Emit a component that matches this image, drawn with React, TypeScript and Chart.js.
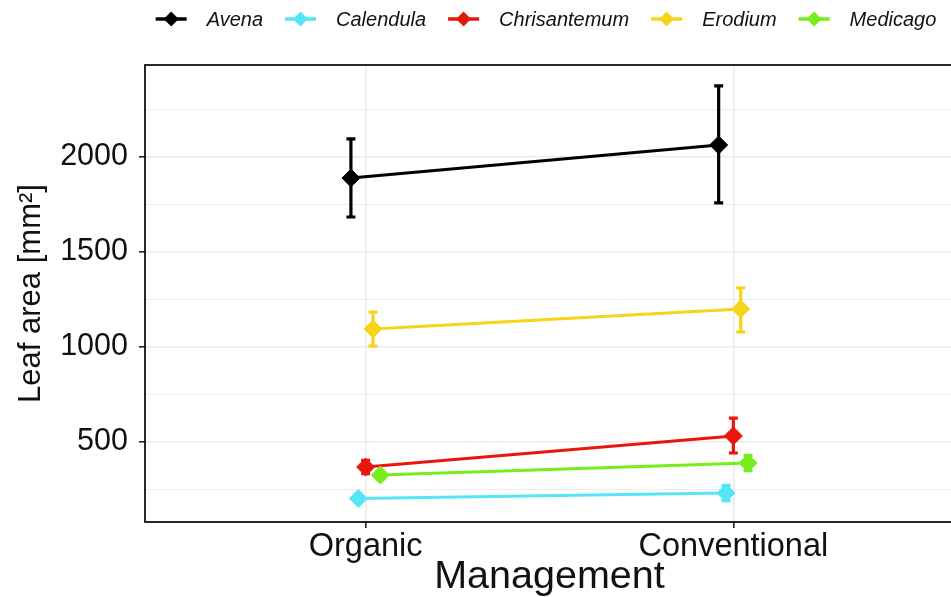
import React, { useEffect, useRef } from 'react';
import { Chart, registerables } from 'chart.js';

Chart.register(...registerables);

// ---- data ----
const categories = ['Organic', 'Conventional'];
const species = ['Avena', 'Calendula', 'Chrisantemum', 'Erodium', 'Medicago'];
const speciesColors = ['#000000', '#55E6F5', '#E8170E', '#F6D41A', '#77EE1B'];

const avenaMean = [1889, 2063];
const avenaLow = [1684, 1758];
const avenaHigh = [2095, 2374];

const calendulaMean = [203, 232];
const calendulaLow = [188, 192];
const calendulaHigh = [218, 272];

const chrisantemumMean = [368, 532];
const chrisantemumLow = [333, 442];
const chrisantemumHigh = [403, 626];

const erodiumMean = [1095, 1200];
const erodiumLow = [1005, 1079];
const erodiumHigh = [1184, 1311];

const medicagoMean = [326, 389];
const medicagoLow = [306, 349];
const medicagoHigh = [346, 430];

const yTickLabels = ['500', '1000', '1500', '2000'];

const means = [avenaMean, calendulaMean, chrisantemumMean, erodiumMean, medicagoMean];
const lows = [avenaLow, calendulaLow, chrisantemumLow, erodiumLow, medicagoLow];
const highs = [avenaHigh, calendulaHigh, chrisantemumHigh, erodiumHigh, medicagoHigh];
const dodgeSlots = [-2, -1, 0, 1, 2];
const DODGE = 0.02;

const CANVAS_W = 1000;
const CANVAS_H = 597;

const FONT = '"Liberation Sans", Arial, Helvetica, sans-serif';

const errorBarPlugin = {
  id: 'errorBars',
  beforeDatasetsDraw(chart: any) {
    const { ctx } = chart;
    const y = chart.scales.y;
    chart.data.datasets.forEach((ds: any, i: number) => {
      const meta = chart.getDatasetMeta(i);
      ctx.save();
      ctx.strokeStyle = ds.borderColor;
      ctx.lineWidth = 3.2;
      ctx.lineCap = 'butt';
      ds.data.forEach((p: any, j: number) => {
        const el = meta.data[j];
        if (!el) return;
        const px = el.x;
        const yl = y.getPixelForValue(p.low);
        const yh = y.getPixelForValue(p.high);
        ctx.beginPath();
        ctx.moveTo(px, yl);
        ctx.lineTo(px, yh);
        ctx.moveTo(px - 4.5, yl);
        ctx.lineTo(px + 4.5, yl);
        ctx.moveTo(px - 4.5, yh);
        ctx.lineTo(px + 4.5, yh);
        ctx.stroke();
      });
      ctx.restore();
    });
  },
};

const panelBorderPlugin = {
  id: 'panelBorder',
  afterDraw(chart: any) {
    const { ctx, chartArea } = chart;
    ctx.save();
    ctx.strokeStyle = '#111111';
    ctx.lineWidth = 1.8;
    ctx.strokeRect(chartArea.left, chartArea.top, chartArea.right - chartArea.left, chartArea.bottom - chartArea.top);
    ctx.restore();
  },
};

const legendPlugin = {
  id: 'diamondLegend',
  afterDraw(chart: any) {
    const { ctx } = chart;
    const center = 546;
    const cy = 19;
    const markerW = 31;
    const gap = 20;
    const itemGap = 22;
    ctx.save();
    ctx.font = `italic 20px ${FONT}`;
    const items = chart.data.datasets.map((ds: any) => ({
      label: ds.label,
      color: ds.borderColor,
      w: ctx.measureText(ds.label).width,
    }));
    const total = items.reduce((s: number, it: any) => s + markerW + gap + it.w, 0) + itemGap * (items.length - 1);
    let x = center - total / 2;
    items.forEach((it: any) => {
      ctx.strokeStyle = it.color;
      ctx.fillStyle = it.color;
      ctx.lineWidth = 3.5;
      ctx.beginPath();
      ctx.moveTo(x, cy);
      ctx.lineTo(x + markerW, cy);
      ctx.stroke();
      const mx = x + markerW / 2;
      const r = 7.5;
      ctx.beginPath();
      ctx.moveTo(mx - r, cy);
      ctx.lineTo(mx, cy - r);
      ctx.lineTo(mx + r, cy);
      ctx.lineTo(mx, cy + r);
      ctx.closePath();
      ctx.fill();
      ctx.fillStyle = '#111111';
      ctx.textBaseline = 'middle';
      ctx.textAlign = 'left';
      ctx.fillText(it.label, x + markerW + gap, cy + 1);
      x += markerW + gap + it.w + itemGap;
    });
    ctx.restore();
  },
};

export default function App() {
  const canvasRef = useRef<HTMLCanvasElement | null>(null);

  useEffect(() => {
    if (!canvasRef.current) return;
    const datasets = species.map((name, i) => ({
      label: name,
      data: categories.map((_, j) => ({
        x: j + 1 + dodgeSlots[i] * DODGE,
        y: means[i][j],
        low: lows[i][j],
        high: highs[i][j],
      })),
      borderColor: speciesColors[i],
      backgroundColor: speciesColors[i],
      pointBackgroundColor: speciesColors[i],
      pointBorderColor: speciesColors[i],
      borderWidth: 3,
      pointStyle: 'rectRot',
      pointRadius: 9,
      pointBorderWidth: 1,
      tension: 0,
      order: species.length - i,
    }));

    const chart = new Chart(canvasRef.current, {
      type: 'line',
      data: { datasets: datasets as any },
      options: {
        animation: false,
        responsive: false,
        maintainAspectRatio: false,
        devicePixelRatio: 1,
        layout: { padding: { top: 65, right: CANVAS_W - 954, left: 0, bottom: 0 } },
        plugins: {
          legend: { display: false },
          tooltip: { enabled: false },
        },
        scales: {
          x: {
            type: 'linear',
            min: 0.4,
            max: 2.6,
            afterBuildTicks: (axis: any) => {
              axis.ticks = categories.map((_, j) => ({ value: j + 1 }));
            },
            afterFit: (axis: any) => {
              axis.height = 75;
              axis.paddingLeft = 0;
              axis.paddingRight = 0;
            },
            ticks: {
              autoSkip: false,
              maxRotation: 0,
              padding: 3,
              color: '#111111',
              font: { family: FONT, size: 32.5, lineHeight: 1 },
              callback: (v: any) => categories[Math.round(Number(v)) - 1] ?? '',
            },
            grid: {
              color: '#EBEBEB',
              lineWidth: 1.6,
              tickColor: '#222222',
              tickWidth: 1.6,
              tickLength: 6,
            },
            border: { display: false },
            title: {
              display: true,
              text: 'Management',
              color: '#111111',
              font: { family: FONT, size: 39.5, lineHeight: 1 },
              padding: { top: 0, bottom: 0 },
            },
          },
          y: {
            type: 'linear',
            min: 79,
            max: 2484,
            afterFit: (axis: any) => {
              axis.width = 145;
            },
            ticks: {
              stepSize: 250,
              includeBounds: false,
              padding: 11,
              color: '#111111',
              font: { family: FONT, size: 30.5 },
              callback: (v: any) => (yTickLabels.includes(String(v)) ? String(v) : ''),
            },
            grid: {
              color: '#EBEBEB',
              lineWidth: (c: any) => (c.tick && c.tick.value % 500 === 0 ? 1.6 : 0.9),
              tickColor: (c: any) => (c.tick && c.tick.value % 500 === 0 ? '#222222' : 'rgba(0,0,0,0)'),
              tickWidth: 1.6,
              tickLength: 6,
            },
            border: { display: false },
            title: {
              display: true,
              text: 'Leaf area [mm²]',
              color: '#111111',
              font: { family: FONT, size: 31, lineHeight: 1 },
              padding: { top: 16, bottom: 0 },
            },
          },
        },
      },
      plugins: [errorBarPlugin, panelBorderPlugin, legendPlugin],
    });
    return () => chart.destroy();
  }, []);

  return (
    <div style={{ position: 'fixed', left: 0, top: 0, width: 951, height: 597, overflow: 'hidden', background: '#ffffff' }}>
      <canvas
        ref={canvasRef}
        width={CANVAS_W}
        height={CANVAS_H}
        style={{ display: 'block', width: CANVAS_W, height: CANVAS_H, maxWidth: 'none' }}
      />
    </div>
  );
}
